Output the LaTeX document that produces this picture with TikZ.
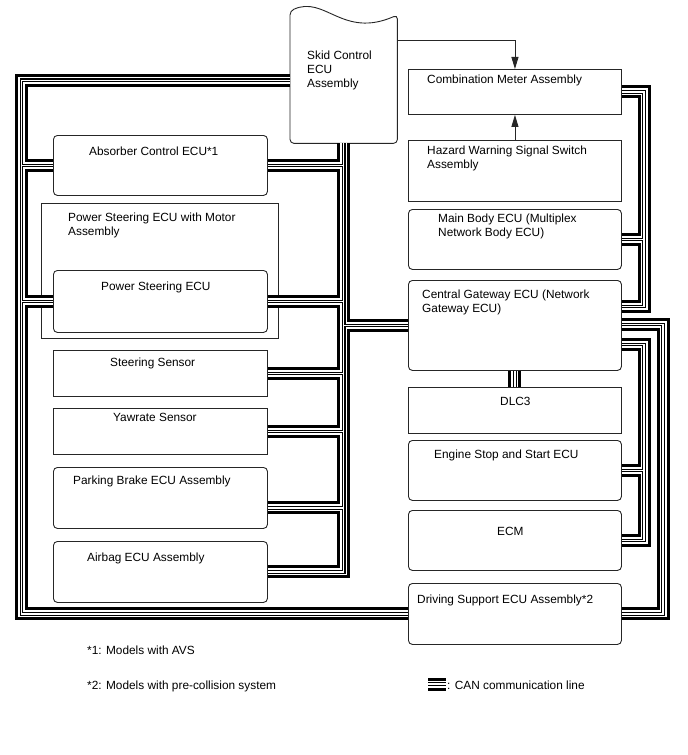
\documentclass[tikz,border=0pt]{standalone}
\usepackage{fontspec}
\setmainfont{Liberation Sans}
\usetikzlibrary{arrows.meta, calc}

\begin{document}
\begin{tikzpicture}[x=1bp, y=-1bp,
  box/.style={draw=black!85, line width=0.9bp, fill=white, anchor=north west, inner sep=0},
  rbox/.style={box, rounded corners=4bp},
  lcol/.style={minimum width=214bp},
  rcol/.style={minimum width=213bp},
  txt/.style={font=\fontsize{11.9}{14}\selectfont, inner sep=0, align=left, anchor=base west},
  arr/.style={line width=0.9bp, draw=black!85, -{Triangle[length=12bp, width=7bp]}}]
  \useasboundingbox (0,0) rectangle (688,755);

  % --- Skid Control ECU (wavy top) ---
  \node[inner sep=0, anchor=north west, minimum width=107bp, minimum height=126bp] (skid) at (290,17) {};
  \draw[line width=0.9bp, draw=black!85, fill=white, rounded corners=4bp]
    ($(skid.north west)+(0,-6)$) .. controls ($(skid.north west)+(35,-22)$) and ($(skid.north east)+(-55,22)$) ..
    ($(skid.north east)+(0,-2)$) -- (skid.south east) -- (skid.south west) -- cycle;

  % --- Left column ---
  \node[box, lcol, minimum width=237bp, minimum height=135bp] (psmotor) at (41,203) {};
  \node[rbox, lcol, minimum height=60bp] (absorber) at (53,135) {};
  \node[rbox, lcol, minimum height=62bp] (pseu) at (53,270) {};
  \node[box, lcol, minimum height=46bp] (steer) at (53,350) {};
  \node[box, lcol, minimum height=46bp] (yaw) at (53,408) {};
  \node[rbox, lcol, minimum height=61bp] (pkb) at (53,467) {};
  \node[rbox, lcol, minimum height=61bp] (airbag) at (53,541) {};

  % --- Right column ---
  \node[box, rcol, minimum height=45bp] (meter) at (408,69) {};
  \node[box, rcol, minimum height=61bp] (hazard) at (408,140) {};
  \node[rbox, rcol, minimum height=60bp] (mainbody) at (408,209) {};
  \node[rbox, rcol, minimum height=90bp] (gateway) at (408,280) {};
  \node[box, rcol, minimum height=46bp] (dlc) at (408,387) {};
  \node[rbox, rcol, minimum height=60bp] (engine) at (408,440) {};
  \node[rbox, rcol, minimum height=60bp] (ecm) at (408,510) {};
  \node[rbox, rcol, minimum height=61bp] (drvsup) at (408,583) {};

  % --- Bus positions ---
  \coordinate (lbus) at (21.5,0);
  \coordinate (rbus) at (644,0);
  \coordinate (obus) at (663,0);
  \coordinate (gw-r1) at ($(gateway.east)+(0,-19)$);
  \coordinate (gw-r2) at ($(gateway.east)+(0,-1)$);
  \coordinate (gw-r3) at ($(gateway.east)+(0,19)$);
  \coordinate (pkb-p) at ($(pkb.east)+(0,10)$);
  \coordinate (leg-a) at (428,684);
  \coordinate (leg-b) at (446,684);

  % --- CAN lines (drawn in layers) ---
  \foreach \w/\c in {13bp/black, 7bp/white, 3.6bp/black, 1.4bp/white} {
    \begin{scope}[line width=\w, draw=\c]
      \draw (skid.west) -| (lbus |- drvsup.west) -- (drvsup.west);
      \draw (absorber.west) -- (absorber.west -| lbus);
      \draw (pseu.west) -- (pseu.west -| lbus);
      \draw (skid.south) |- (airbag.east);
      \draw (absorber.east) -- (absorber.east -| skid.south);
      \draw (pseu.east) -- (pseu.east -| skid.south);
      \draw (steer.east) -- (steer.east -| skid.south);
      \draw (yaw.east) -- (yaw.east -| skid.south);
      \draw (pkb-p) -- (pkb-p -| skid.south);
      \draw (gateway.west) -- (gateway.west -| skid.south);
      \draw (meter.east) -| (gw-r1 -| rbus) -- (gw-r1);
      \draw (mainbody.east) -- (mainbody.east -| rbus);
      \draw (gw-r2) -| (obus |- drvsup.east) -- (drvsup.east);
      \draw (gw-r3) -| (rbus |- ecm.east) -- (ecm.east);
      \draw (engine.east) -- (engine.east -| rbus);
      \draw (gateway.south) -- (dlc.north);
      \draw (leg-a) -- (leg-b);
    \end{scope}
  }

  % --- Arrows ---
  \draw[arr] ($(skid.north east)+(0,23)$) -| (meter.north);
  \draw[arr] (hazard.north) -- (meter.south);

  % --- Labels (base = last line) ---
  \node[txt] (skid-t) at (307,87.5) {Skid Control\\ECU\\Assembly};
  \node[txt] (absorber-t) at (89,155) {Absorber Control ECU*1};
  \node[txt] (psmotor-t) at (68,235) {Power Steering ECU with Motor\\Assembly};
  \node[txt] (pseu-t) at (101,290) {Power Steering ECU};
  \node[txt] (steer-t) at (110,366.5) {Steering Sensor};
  \node[txt] (yaw-t) at (113,421.5) {Yawrate Sensor};
  \node[txt] (pkb-t) at (73,484) {Parking Brake ECU Assembly};
  \node[txt] (airbag-t) at (87,561.5) {Airbag ECU Assembly};
  \node[txt] (meter-t) at (427,83.5) {Combination Meter Assembly};
  \node[txt] (hazard-t) at (427,168) {Hazard Warning Signal Switch\\Assembly};
  \node[txt] (mainbody-t) at (438,236.7) {Main Body ECU (Multiplex\\Network Body ECU)};
  \node[txt] (gateway-t) at (422,312.3) {Central Gateway ECU (Network\\Gateway ECU)};
  \node[txt] (dlc-t) at (500,405) {DLC3};
  \node[txt] (engine-t) at (434,458.5) {Engine Stop and Start ECU};
  \node[txt] (ecm-t) at (497,535) {ECM};
  \node[txt] (drvsup-t) at (417,603.3) {Driving Support ECU Assembly*2};

  % --- Notes and legend ---
  \node[txt] (note1) at (87,654) {*1: Models with AVS};
  \node[txt] (note2) at (87,689) {*2: Models with pre-collision system};
  \node[txt] (leg-t) at (447,689) {: CAN communication line};
\end{tikzpicture}
\end{document}
